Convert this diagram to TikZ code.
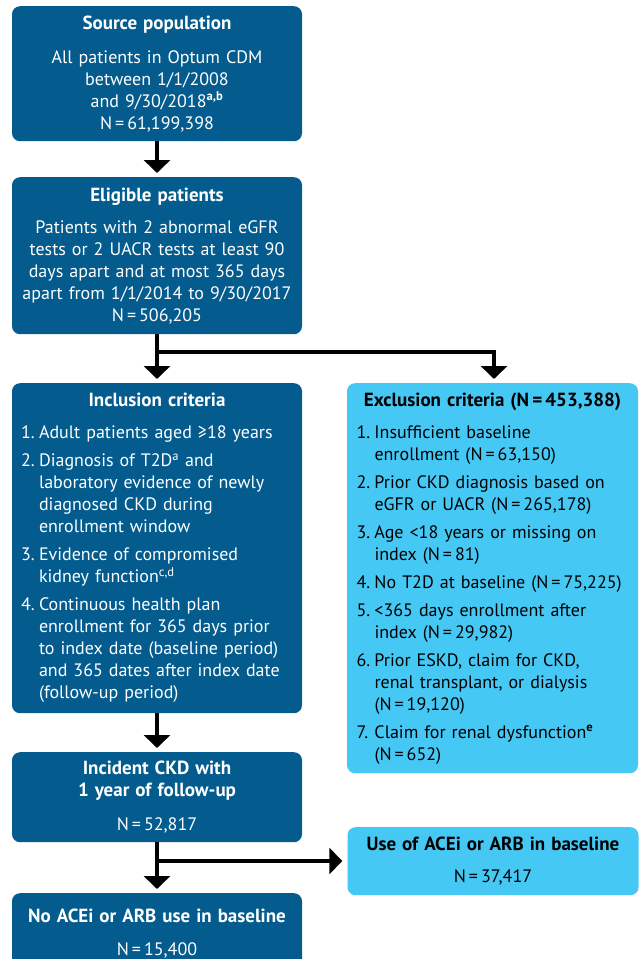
\documentclass[tikz,border=0pt]{standalone}
\usepackage{fontspec}
\setmainfont{PT Sans}
\usetikzlibrary{arrows.meta,positioning}

\definecolor{darkbox}{RGB}{3,91,142}
\definecolor{lightbox}{RGB}{70,200,245}

\tikzset{
  box/.style={rectangle, rounded corners=8pt, anchor=north, minimum width=290pt,
    text width=272pt, inner xsep=9pt, inner ysep=0pt, align=center,
    font=\fontsize{18}{22}\selectfont},
  dark/.style={box, fill=darkbox, text=white},
  light/.style={box, fill=lightbox, text=black},
  arr/.style={line width=4pt, -{Triangle[length=13pt,width=26pt]}, shorten >=4pt},
}
\newcommand{\hd}[1]{{\fontsize{19}{22}\selectfont\bfseries #1}}
\newcommand{\hdline}[1]{\makebox[\linewidth]{\hd{#1}}\par}
\newcommand{\itm}[2]{{\hangindent=18pt\hangafter=1\noindent\makebox[18pt][l]{#1}#2\par}}

\begin{document}
\begin{tikzpicture}[x=1pt,y=-1pt]
  \useasboundingbox (0,0) rectangle (641,959);

  % left column
  \node[dark, minimum height=135pt] (src) at (157,6)
    {\hd{Source population}\\[12pt]
     All patients in Optum CDM\\ between 1/1/2008\\ and 9/30/2018\textsuperscript{\bfseries a,b}\\ N\,=\,61,199,398};
  \node[dark, minimum height=157pt] (elig) at (157,177)
    {\hd{Eligible patients}\\[10pt]
     Patients with 2 abnormal eGFR\\ tests or 2 UACR tests at least 90\\ days apart and at most 365 days\\ apart from 1/1/2014 to 9/30/2017\\ N\,=\,506,205};
  \node[dark, minimum height=330pt, align=left] (incl) at (157,383)
    {\hdline{Inclusion criteria}\vspace{10pt}
     \itm{1.}{Adult patients aged ≥18 years}\vspace{6pt}
     \itm{2.}{Diagnosis of T2D\textsuperscript{a} and\newline laboratory evidence of newly\newline diagnosed CKD during\newline enrollment window}\vspace{6pt}
     \itm{3.}{Evidence of compromised\newline kidney function\textsuperscript{c,d}}\vspace{6pt}
     \itm{4.}{Continuous health plan\newline enrollment for 365 days prior\newline to index date (baseline period)\newline and 365 dates after index date\newline (follow-up period)}};
  \node[dark, minimum height=90pt] (inc) at (157,752)
    {\hd{Incident CKD with}\\ \hd{1 year of follow-up}\\[12pt] N\,=\,52,817};
  \node[dark, minimum height=80pt] (noace) at (157,893)
    {\hd{No ACEi or ARB use in baseline}\\[11pt] N\,=\,15,400};

  % right column
  \node[light, minimum width=291pt, minimum height=390pt, align=left] (excl) at (492.5,383)
    {\hdline{Exclusion criteria (N\,=\,453,388)}\vspace{10pt}
     \itm{1.}{Insufficient baseline\newline enrollment (N\,=\,63,150)}\vspace{6pt}
     \itm{2.}{Prior CKD diagnosis based on\newline eGFR or UACR (N\,=\,265,178)}\vspace{6pt}
     \itm{3.}{Age <18 years or missing on\newline index (N\,=\,81)}\vspace{6pt}
     \itm{4.}{No T2D at baseline (N\,=\,75,225)}\vspace{6pt}
     \itm{5.}{<365 days enrollment after\newline index (N\,=\,29,982)}\vspace{6pt}
     \itm{6.}{Prior ESKD, claim for CKD,\newline renal transplant, or dialysis\newline (N\,=\,19,120)}\vspace{6pt}
     \itm{7.}{Claim for renal dysfunction\textsuperscript{\bfseries e}\newline (N\,=\,652)}};
  \node[light, minimum width=291pt, minimum height=68pt] (use) at (493,827)
    {\hd{Use of ACEi or ARB in baseline}\\[10pt] N\,=\,37,417};

  % connectors
  \coordinate (split1) at (157,352);
  \coordinate (split2) at (157,861);
  \draw[arr] (src) -- (elig);
  \draw[arr] (elig) -- (incl);
  \draw[arr, shorten >=4pt] (split1) -| ([xshift=1.5pt]excl.north);
  \draw[arr] (incl) -- (inc);
  \draw[arr] (inc) -- (noace);
  \draw[arr, shorten >=5pt] (split2) -- (use.west |- split2);
\end{tikzpicture}
\end{document}
